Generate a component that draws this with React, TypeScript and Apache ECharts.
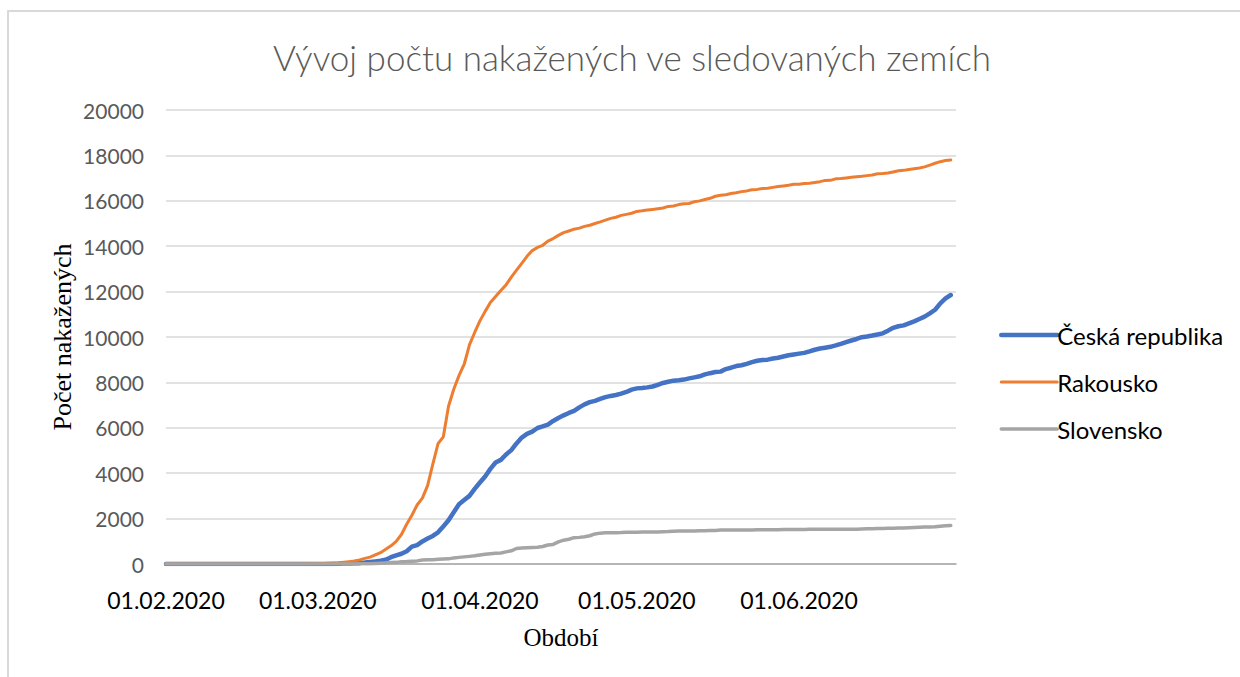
import React, { useEffect, useRef } from "react";
import * as echarts from "echarts";

// Categories: daily dates 01.02.2020 .. 01.07.2020 (last slot has no data)
const dates: string[] = [];
for (let i = 0; i < 152; i++) {
  const d = new Date(Date.UTC(2020, 1, 1 + i));
  const dd = String(d.getUTCDate()).padStart(2, "0");
  const mm = String(d.getUTCMonth() + 1).padStart(2, "0");
  dates.push(`${dd}.${mm}.${d.getUTCFullYear()}`);
}

const seriesNames = ["Česká republika", "Rakousko", "Slovensko"];

const czech: number[] = [
  0, 0, 0, 0, 0, 0, 0, 0, 0, 0, 0, 0, 0, 0, 0, 0, 0, 0, 0, 0, 0, 0, 0, 0, 0, 0, 0, 0, 0,
  3, 3, 5, 5, 8, 19, 26, 32, 38, 63,
  94, 116, 141, 189, 298, 383, 450, 560, 765, 833,
  995, 1120, 1236, 1394, 1654, 1925, 2279, 2631, 2817, 3001,
  3308, 3589, 3858, 4190, 4472, 4587, 4822, 5017, 5312, 5569,
  5732, 5831, 5991, 6059, 6141, 6303, 6433, 6549, 6654, 6746,
  6900, 7033, 7132, 7188, 7273, 7352, 7404, 7445, 7504, 7579,
  7682, 7737, 7755, 7781, 7819, 7896, 7974, 8031, 8077, 8095,
  8123, 8176, 8221, 8269, 8351, 8406, 8455, 8475, 8586, 8647,
  8721, 8754, 8813, 8890, 8955, 8991, 9002, 9050, 9086, 9140,
  9196, 9230, 9268, 9301, 9364, 9438, 9494, 9529, 9567, 9628,
  9697, 9777, 9845, 9913, 9991, 10024, 10064, 10111, 10162, 10280,
  10406, 10474, 10511, 10599, 10688, 10791, 10898, 11038, 11200, 11480,
  11700, 11850,
];

const austria: number[] = [
  0, 0, 0, 0, 0, 0, 0, 0, 0, 0, 0, 0, 0, 0, 0, 0, 0, 0, 0, 0, 0, 0, 0,
  2, 2, 3, 5, 9, 10, 14, 18, 29, 41,
  55, 79, 104, 131, 182, 246, 302, 400, 500, 650,
  800, 1000, 1300, 1750, 2150, 2600, 2900, 3450, 4400, 5300,
  5600, 6950, 7700, 8300, 8800, 9650, 10200,
  10711, 11129, 11524, 11781, 12051, 12297, 12639, 12942, 13244, 13555,
  13806, 13945, 14041, 14226, 14336, 14476, 14595, 14671, 14749, 14795,
  14873, 14925, 15002, 15071, 15148, 15225, 15274, 15357, 15402, 15452,
  15531, 15558, 15597, 15621, 15650, 15684, 15752, 15774, 15833, 15871,
  15882, 15961, 15997, 16058, 16109, 16201, 16242, 16269, 16321, 16353,
  16404, 16436, 16486, 16503, 16539, 16557, 16591, 16628, 16654, 16685,
  16731, 16733, 16759, 16771, 16805, 16843, 16898, 16902, 16968, 16979,
  17005, 17034, 17064, 17078, 17109, 17135, 17189, 17203, 17223, 17271,
  17323, 17341, 17380, 17416, 17449, 17495, 17573, 17654, 17723, 17777,
  17800,
];

const slovakia: number[] = [
  0, 0, 0, 0, 0, 0, 0, 0, 0, 0, 0, 0, 0, 0, 0, 0, 0, 0, 0, 0, 0, 0, 0, 0, 0, 0, 0, 0, 0, 0,
  0, 0, 0, 0,
  1, 3, 5, 7, 7, 10, 21, 32, 44, 61,
  72, 97, 105, 123, 137, 178, 185, 186, 204, 216,
  226, 269, 292, 314, 336, 363, 400, 426, 450, 471,
  485, 534, 581, 682, 701, 715, 728, 742, 769, 835,
  863, 977, 1049, 1089, 1161, 1173, 1199, 1244, 1325, 1360,
  1373, 1379, 1381, 1384, 1396, 1403, 1403, 1405, 1406, 1407,
  1413, 1421, 1429, 1445, 1455, 1455, 1457, 1457, 1465, 1469,
  1477, 1480, 1493, 1494, 1495, 1495, 1496, 1502, 1503, 1504,
  1509, 1511, 1511, 1513, 1520, 1520, 1521, 1522, 1522, 1526,
  1528, 1529, 1530, 1530, 1531, 1531, 1531, 1533, 1533, 1541,
  1552, 1556, 1562, 1565, 1572, 1573, 1581, 1587, 1600, 1607,
  1616, 1629, 1630, 1642, 1667, 1687, 1700,
];

const yMin = 0;
const yMax = 20000;
const yStep = 2000;

const titleText = "Vývoj počtu nakažených ve sledovaných zemích";
const xTitle = "Období";
const yTitle = "Počet nakažených";

const colors = ["#4472C4", "#ED7D31", "#A5A5A5"];
const widths = [4.5, 3, 3.5];

export default function App() {
  const ref = useRef<HTMLDivElement>(null);
  useEffect(() => {
    if (!ref.current) return;
    const chart = echarts.init(ref.current, undefined, { renderer: "svg" });
    const sans = "Lato, 'Noto Sans', sans-serif";
    const serif = "'Liberation Serif', 'DejaVu Serif', serif";
    const dataSets = [czech, austria, slovakia];
    chart.setOption({
      animation: false,
      backgroundColor: "#ffffff",
      grid: { left: 166, right: 284, top: 110, bottom: 113, containLabel: false },
      xAxis: {
        type: "category",
        data: dates,
        boundaryGap: false,
        axisLine: { lineStyle: { color: "#A6A6A6", width: 1.5 } },
        axisTick: { show: false },
        axisLabel: {
          interval: (index: number, value: string) => value.startsWith("01.") && index < 150,
          color: "#000000",
          fontFamily: sans,
          fontSize: 23,
          margin: 24,
        },
        splitLine: { show: false },
      },
      yAxis: {
        type: "value",
        min: yMin,
        max: yMax,
        interval: yStep,
        axisLine: { show: false },
        axisTick: { show: false },
        axisLabel: {
          color: "#595959",
          fontFamily: sans,
          fontSize: 21,
          margin: 22,
          formatter: (v: number) => String(v),
        },
        splitLine: { lineStyle: { color: "#D9D9D9", width: 1.5 } },
      },
      legend: {
        orient: "vertical",
        left: 994,
        top: 318,
        itemWidth: 56,
        itemHeight: 20,
        itemGap: 23,
        itemStyle: { opacity: 0 },
        textStyle: { color: "#000000", fontFamily: sans, fontSize: 24, lineHeight: 24, padding: [0, 0, 0, -5] },
        data: seriesNames.map((name, i) => ({
          name,
          lineStyle: { width: widths[i], color: colors[i], cap: "round" },
        })),
      },
      series: seriesNames.map((name, i) => ({
        name,
        type: "line",
        data: dataSets[i],
        symbol: "none",
        showSymbol: false,
        color: colors[i],
        lineStyle: { color: colors[i], width: widths[i], cap: "round", join: "round" },
      })),
      graphic: [
        {
          type: "rect",
          z: -10,
          shape: { x: 8, y: 11, width: 1300, height: 700 },
          style: { fill: "none", stroke: "#D9D9D9", lineWidth: 2 },
        },
        {
          type: "text",
          x: 632,
          y: 57,
          style: {
            text: titleText,
            fontFamily: sans,
            fontWeight: 300,
            fontSize: 35,
            fill: "#595959",
            align: "center",
            verticalAlign: "middle",
          },
        },
        {
          type: "text",
          x: 561,
          y: 637,
          style: { text: xTitle, fontFamily: serif, fontSize: 25, fill: "#000000", align: "center", verticalAlign: "middle" },
        },
        {
          type: "text",
          x: 62,
          y: 337,
          rotation: Math.PI / 2,
          style: { text: yTitle, fontFamily: serif, fontSize: 26, fill: "#000000", align: "center", verticalAlign: "middle" },
        },
      ],
    });
    return () => chart.dispose();
  }, []);
  return (
    <div
      ref={ref}
      style={{ position: "fixed", left: 0, top: 0, width: 1240, height: 677, background: "#fff" }}
    />
  );
}
